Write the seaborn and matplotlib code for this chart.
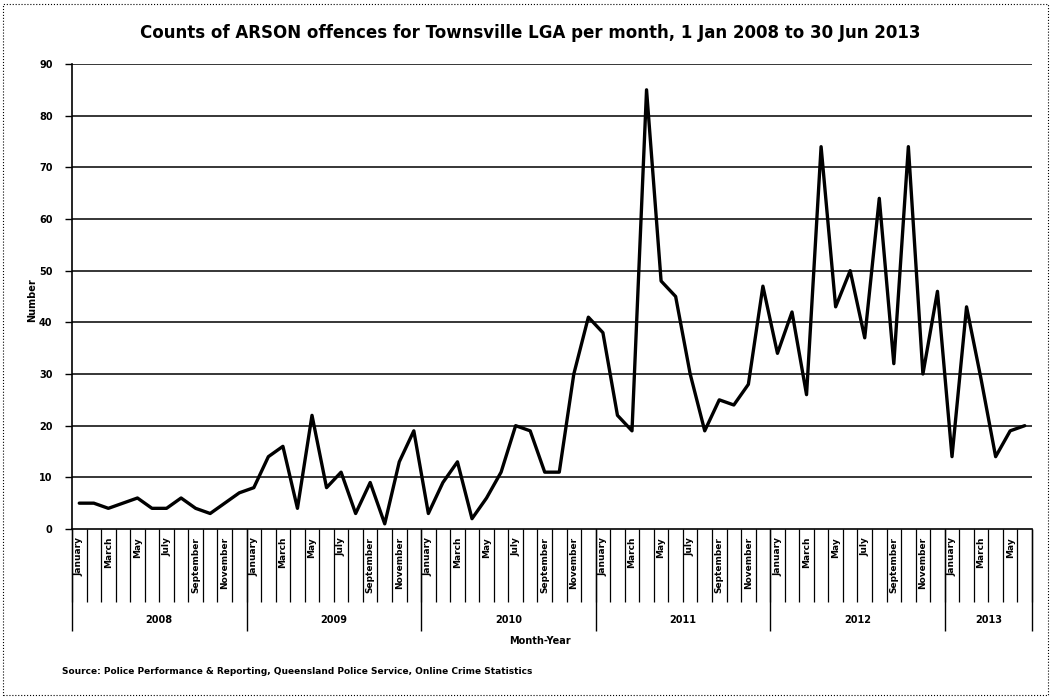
import matplotlib
matplotlib.use("Agg")
import matplotlib.pyplot as plt
import seaborn as sns
import pandas as pd
import numpy as np
from matplotlib.patches import Rectangle

# Monthly offence counts, Jan 2008 - Jun 2013
years = ["2008", "2009", "2010", "2011", "2012", "2013"]
month_names = ["January", "February", "March", "April", "May", "June",
               "July", "August", "September", "October", "November", "December"]
counts_2008 = [5, 5, 4, 5, 6, 4, 4, 6, 4, 3, 5, 7]
counts_2009 = [8, 14, 16, 4, 22, 8, 11, 3, 9, 1, 13, 19]
counts_2010 = [3, 9, 13, 2, 6, 11, 20, 19, 11, 11, 30, 41]
counts_2011 = [38, 22, 19, 85, 48, 45, 30, 19, 25, 24, 28, 47]
counts_2012 = [34, 42, 26, 74, 43, 50, 37, 64, 32, 74, 30, 46]
counts_2013 = [14, 43, 29, 14, 19, 20]
y_ticks = [0, 10, 20, 30, 40, 50, 60, 70, 80, 90]

title = "Counts of ARSON offences for Townsville LGA per month, 1 Jan 2008 to 30 Jun 2013"
source = "Source: Police Performance & Reporting, Queensland Police Service, Online Crime Statistics"

series = [counts_2008, counts_2009, counts_2010, counts_2011, counts_2012, counts_2013]
rows = []
for yr, vals in zip(years, series):
    for m, v in enumerate(vals):
        rows.append({"year": yr, "month": month_names[m], "count": v})
df = pd.DataFrame(rows)
df["idx"] = np.arange(len(df))
n = len(df)

sns.set_theme(style="white")
plt.rcParams["font.family"] = ["DejaVu Sans"]
plt.rcParams["text.color"] = "black"
plt.rcParams["xtick.color"] = "black"
plt.rcParams["ytick.color"] = "black"
plt.rcParams["axes.labelcolor"] = "black"

fig = plt.figure(figsize=(10.52, 6.99), dpi=100)
ax = fig.add_axes([72 / 1052, 1 - 529 / 699, (1032 - 72) / 1052, (529 - 64) / 699])

# horizontal gridlines
for t in y_ticks[1:]:
    ax.axhline(t, color="black", lw=1.1, zorder=1)

sns.lineplot(data=df, x="idx", y="count", color="black", lw=2.4, ax=ax, zorder=3)

ax.set_xlim(-0.5, n - 0.5)
ax.set_ylim(0, 90)
ax.set_yticks(y_ticks)
ax.set_yticklabels([str(t) for t in y_ticks], fontsize=7, fontweight="bold")
ax.tick_params(axis="y", direction="out", length=5, width=1, color="black", pad=9, left=True)
ax.set_xticks([])
ax.set_xlabel("")
ax.set_ylabel("")
for side in ["top", "right"]:
    ax.spines[side].set_visible(False)
for side in ["left", "bottom"]:
    ax.spines[side].set_color("black")
    ax.spines[side].set_linewidth(1.2)

xt = ax.get_xaxis_transform()
ax_h = 465.0

# month separators and labels (every second month labelled)
for i in range(n + 1):
    ax.vlines(i - 0.5, -73 / ax_h, 0, transform=xt, color="black", lw=0.9, clip_on=False)
for i, m in enumerate(df["month"]):
    if month_names.index(m) % 2 == 0:
        ax.text(i, -8 / ax_h, m, transform=xt, rotation=90, ha="center", va="top",
                fontsize=6.5, fontweight="bold", clip_on=False)

# year groups
start = 0
for yr, vals in zip(years, series):
    ax.vlines(start - 0.5, -102 / ax_h, 0, transform=xt, color="black", lw=1.0, clip_on=False)
    mid = start + (len(vals) - 1) / 2
    ax.text(mid, -91 / ax_h, yr, transform=xt, ha="center", va="center",
            fontsize=7, fontweight="bold", clip_on=False)
    start += len(vals)
ax.vlines(n - 0.5, -102 / ax_h, 0, transform=xt, color="black", lw=1.0, clip_on=False)

fig.text(540 / 1052, 1 - 641 / 699, "Month-Year", ha="center", va="center",
         fontsize=7, fontweight="bold")
fig.text(32 / 1052, 1 - 300 / 699, "Number", ha="center", va="center", rotation=90,
         fontsize=7, fontweight="bold")
fig.text(530 / 1052, 1 - 33 / 699, title, ha="center", va="center",
         fontsize=12, fontweight="bold")
fig.text(62 / 1052, 1 - 672 / 699, source, ha="left", va="center",
         fontsize=6.5, fontweight="bold")

fig.patches.append(Rectangle((3 / 1052, 4 / 699), 1045 / 1052, 691 / 699,
                             transform=fig.transFigure, fill=False, ec="black",
                             lw=0.8, ls=":"))

fig.savefig("out.png", dpi=100, facecolor="white")
